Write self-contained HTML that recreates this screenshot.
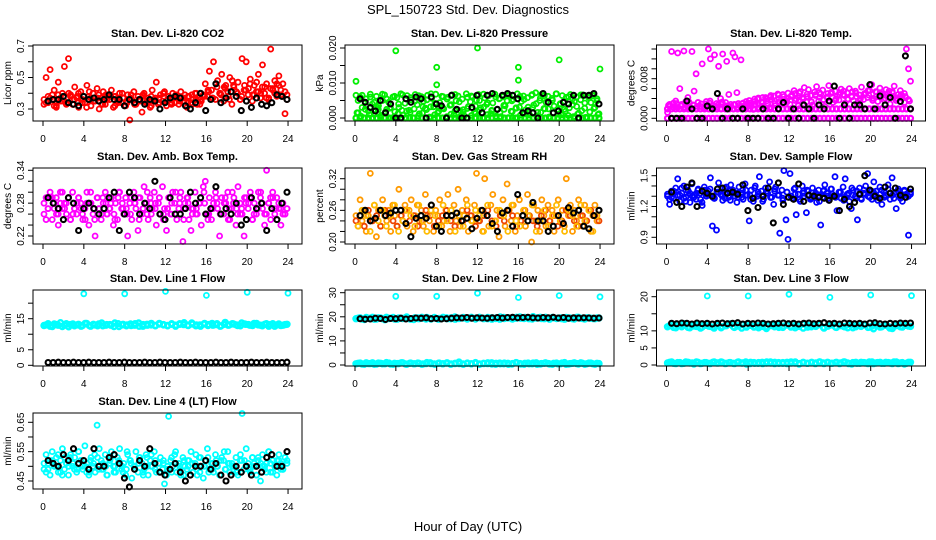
<!DOCTYPE html>
<html><head><meta charset="utf-8"><style>
html,body{margin:0;padding:0;background:#fff;}
svg{display:block;font-family:"Liberation Sans",Arial,sans-serif;}
</style></head><body>
<svg id="chart" width="936" height="540" viewBox="0 0 936 540" xmlns="http://www.w3.org/2000/svg">
<rect x="0" y="0" width="936" height="540" fill="#fff"/>
<text x="468" y="14" text-anchor="middle" font-size="13">SPL_150723  Std. Dev. Diagnostics</text>
<text x="468" y="531" text-anchor="middle" font-size="13">Hour of Day (UTC)</text>
<g id="panels"></g>
</svg>
<script>
// ---- data (hour-of-day implicit, evenly spaced) ----
const xTicks = [0,4,8,12,16,20,24];
const co2Red = [0.33,0.50,0.38,0.55,0.36,0.42,0.31,0.47,0.35,0.40,0.57,0.34,0.62,0.39,0.33,0.44,0.37,0.31,0.41,0.36,0.34,0.45,0.38,0.32,0.40,0.35,0.43,0.30,0.37,0.41,0.33,0.39,0.36,0.42,0.31,0.38,0.35,0.40,0.34,0.37,0.32,0.39,0.23,0.36,0.41,0.33,0.38,0.35,0.28,0.40,0.34,0.37,0.31,0.42,0.36,0.47,0.33,0.39,0.35,0.41,0.32,0.38,0.36,0.40,0.34,0.37,0.33,0.41,0.35,0.39,0.31,0.38,0.34,0.36,0.40,0.33,0.37,0.35,0.39,0.46,0.38,0.54,0.42,0.60,0.36,0.48,0.40,0.52,0.35,0.45,0.41,0.50,0.33,0.44,0.38,0.47,0.36,0.62,0.42,0.60,0.39,0.49,0.35,0.45,0.41,0.52,0.37,0.58,0.40,0.46,0.36,0.68,0.43,0.48,0.38,0.51,0.42,0.46,0.27,0.39];
const co2Red2 = [0.36,0.34,0.39,0.32,0.37,0.35,0.40,0.33,0.38,0.36,0.34,0.41,0.35,0.37,0.33,0.39,0.36,0.38,0.34,0.40,0.35,0.37,0.33,0.36,0.39,0.34,0.38,0.35,0.37,0.40,0.36,0.34,0.39,0.37,0.35,0.38,0.33,0.40,0.36,0.38,0.41,0.37,0.44,0.39,0.43,0.36,0.45,0.40,0.38,0.42,0.46,0.39,0.41,0.44,0.37,0.43,0.40,0.45,0.38,0.36];
const co2Red3 = [0.34,0.37,0.32,0.39,0.35,0.33,0.38,0.36,0.40,0.34,0.31,0.37,0.35,0.39,0.33,0.36,0.38,0.32,0.35,0.37,0.34,0.39,0.33,0.36,0.38,0.35,0.32,0.37,0.34,0.40,0.36,0.33,0.38,0.35,0.37,0.34,0.39,0.36,0.33,0.38,0.42,0.37,0.46,0.40,0.44,0.38,0.48,0.41,0.36,0.45,0.43,0.39,0.47,0.40,0.44,0.37,0.42,0.46,0.39,0.41];
const co2Black = [0.35,0.36,0.36,0.38,0.34,0.33,0.32,0.38,0.36,0.37,0.35,0.36,0.39,0.36,0.36,0.32,0.36,0.34,0.36,0.33,0.36,0.35,0.30,0.34,0.37,0.38,0.37,0.32,0.30,0.34,0.40,0.29,0.36,0.46,0.34,0.37,0.41,0.38,0.29,0.35,0.31,0.37,0.33,0.32,0.34,0.39,0.38,0.36];
const presGreenMilli = [6.5,1.5,6,3,0,5.5,2,6.8,4,1,6.2,3.5,0.5,5,6.6,2.5,4.5,0,6,1.8,5.8,3,6.9,0.8,4.2,6.4,2.2,5.2,0,6.7,3.8,1.2,6.1,4.8,2.8,6.5,0.3,5.6,3.2,6.8,1.5,4.4,6.2,2.6,0,5.9,3.6,6.6,1,4.9,6.3,2.1,5.4,0.6,6.9,3.3,4.6,6,1.7,5.1,6.7,2.9,0,5.7,3.9,6.4,1.3,4.3,6.8,2.4,5.5,0.4,6.1,3.5,4.9,6.6,1.9,5.3,0,6.9,3.1,4.7,6.3,2.3,5.8,0.9,6.5,3.7,7.2,1.6,5,6.8,2.7,4.5,6.2,0,5.6,3.4,6.9,1.1,4.1,6.4,2.5,5.9,0.7,6.7,3.8,4.8,6,1.4,5.2,6.6,2.8,0,6.3,4.4,6.8,3,5.5,1.2];
const presGreen2Milli = [5,6.5,3.5,6,4.5,2.5,6.8,5.5,3,6.2,4,6.6,2,5.8,4.8,6.4,3.2,5.2,6.9,4.2,2.8,6.1,5.4,3.8,6.7,4.6,2.4,5.9,6.3,3.4,5,6.8,4.4,2.2,6,5.6,3.6,6.5,4.9,2.9,6.2,5.3,3.1,6.7,4.1,5.7,6.4,2.6,5.1,6.9,3.9,4.7,6.1,5.5,3.3,6.6,4.3,5.8,6.3,4.9];
const presGreen3Milli = [1.5,0.5,2.5,1,2,3,0.8,1.8,2.8,0.3,1.2,2.2,0,1.6,2.6,0.6,1.4,2.4,3.2,0.9,1.9,2.9,0.4,1.1,2.1,0.2,1.7,2.7,0.7,1.3,2.3,3.1,1,2,0.5,1.5,2.5,0.1,1.8,2.8,0.8,1.2,2.2,3,0.6,1.6,2.6,0.3,1.4,2.4,0.9,1.9,2.9,0.4,1.1,2.1,0.2,1.7,2.7,1];
const presFloorMilli = [0,0,0,0,0,0,0,0,0,0,0,0,0,0,0,0,0,0,0,0,0,0,0,0,0,0,0,0,0,0,0,0,0,0,0,0,0,0,0,0,0,0,0,0,0,0,0,0,0,0,0,0,0,0,0,0,0,0,0,0];
const presOutHour = [0.1,4,8,8,12,16,16,20,24];
const presOutMilli = [10.5,19.2,14.5,9.5,20,14.5,10.8,16.6,14];
const presBlackMilli = [5.5,4.5,3,2,5,1.5,4,0,0,5.5,4.5,6,5.5,0,6,4,3.5,0,6.5,2.5,0,0,3,6.5,1.5,6.5,7,2.5,6.5,7,6.5,5.5,1.5,2,1.5,0,7,4.5,1.5,2,4.5,4,6.5,0,6.5,6.5,7,4];
const tempMagMilli = [1.2,2.8,13.5,2.2,3.5,13.2,6,2.5,13.6,3,4.2,2.1,13.5,5.5,9,3.2,2.4,11,2,3.4,14,12,2.6,12.8,3,10.5,4,13,2.3,11.5,4.8,2.8,13.2,12.4,5.2,2.6,11.8,3.1,2.2,2.9,3.6,2.4,1.8,2.7,3.9,2.1,3.3,2.5,4.2,3,2.2,3.8,4.5,2.6,4.9,3.4,2.9,4.4,3.6,5.1,2.8,4.7,5.6,3.9,2.5,5.4,4.1,6.2,3.3,5.8,4.6,2.7,5.3,6.4,3.5,4.9,5.7,2.4,4.3,6.6,5,3.2,5.5,4.4,3.7,5.9,4.8,3.1,5.2,6,4.5,3.6,5.5,2.9,4.7,6.3,3.8,5.1,4.2,5.6,6.8,4,5.4,3.4,6.1,4.9,3.7,5.8,4.3,2.9,5.2,6.5,3.6,4.8,5.6,4,3.2,14,10,7.5];
const tempMag2Milli = [2.4,3.1,2.2,2.8,3.4,2.1,2.6,3.2,2.3,2.9,3.5,2.2,2.7,3.3,2.5,2.1,2.8,3.0,2.4,2.6,3.1,3.9,2.8,4.2,3.5,4.6,3.0,4.0,4.8,3.3,4.4,5.0,3.7,4.2,4.9,3.4,4.6,5.2,3.8,4.1,5.3,3.6,4.7,5.5,3.9,4.3,5.1,3.5,4.8,5.6,4.0,4.4,5.2,3.7,4.9,5.4,4.1,4.5,5.0,3.8];
const tempMag3Milli = [2.6,2.3,3.0,2.5,2.2,3.3,2.7,2.4,2.9,2.2,3.1,2.6,2.3,2.8,3.2,2.4,2.7,2.2,2.9,3.4,2.7,3.4,4.1,3.1,3.9,4.3,3.5,4.7,3.2,4.0,4.5,3.6,5.1,3.9,4.4,3.3,4.8,4.2,3.7,5.0,4.3,3.9,5.2,4.6,3.8,5.4,4.4,4.0,5.0,4.7,3.6,5.3,4.5,4.1,5.5,4.2,3.9,4.8,4.4,3.5];
const tempRowMilli = [1.9,1.9,1.9,1.9,1.9,1.9,1.9,1.9,1.9,1.9,1.9,1.9,1.9,1.9,1.9,1.9,1.9,1.9,1.9,1.9,1.9,1.9,1.9,1.9,1.9,1.9,1.9,1.9,1.9,1.9,1.9,1.9,1.9,1.9,1.9,1.9,1.9,1.9,1.9,1.9,1.9,1.9,1.9,1.9,1.9,1.9,1.9,1.9,1.9,1.9,1.9,1.9,1.9,1.9,1.9,1.9,1.9,1.9,1.9,1.9];
const tempFloorMilli = [0,0,0,0,0,0,0,0,0,0,0,0,0,0,0,0,0,0,0,0,0,0,0,0,0,0,0,0,0,0,0,0,0,0,0,0,0,0,0,0,0,0,0,0,0,0,0,0,0,0,0,0,0,0,0,0,0,0,0,0];
const tempBlackMilli = [0,0,0,3.5,1.9,0,0,2.5,1.9,5,0,1.9,0,0,1.9,0,0,0,1.9,0,0,1.9,3.2,0,1.9,0,2.7,1.9,0,2.7,1.9,3.5,6.5,0,2.7,0,2.7,2.7,1.9,6.8,1.9,4.5,2.7,4.2,0,3.4,12.6,1.9];
const ambMag = [0.26,0.29,0.27,0.30,0.25,0.28,0.29,0.24,0.30,0.27,0.28,0.26,0.29,0.25,0.30,0.27,0.26,0.29,0.28,0.25,0.27,0.30,0.24,0.28,0.26,0.22,0.29,0.27,0.25,0.28,0.30,0.26,0.27,0.29,0.24,0.28,0.25,0.30,0.27,0.26,0.29,0.22,0.28,0.25,0.30,0.27,0.23,0.29,0.26,0.31,0.28,0.25,0.29,0.27,0.30,0.24,0.28,0.26,0.31,0.27,0.23,0.29,0.26,0.30,0.28,0.25,0.27,0.30,0.21,0.28,0.29,0.25,0.23,0.27,0.30,0.26,0.28,0.24,0.31,0.32,0.26,0.29,0.25,0.28,0.30,0.27,0.22,0.29,0.26,0.28,0.30,0.25,0.27,0.29,0.24,0.31,0.28,0.26,0.22,0.29,0.27,0.30,0.25,0.28,0.26,0.30,0.29,0.27,0.24,0.34,0.28,0.25,0.30,0.26,0.29,0.27,0.24,0.28,0.26,0.27];
const ambMag2 = [0.28,0.27,0.29,0.26,0.28,0.27,0.29,0.26,0.28,0.27,0.25,0.28,0.27,0.29,0.26,0.28,0.27,0.26,0.29,0.28,0.27,0.26,0.28,0.29,0.27,0.26,0.28,0.27,0.29,0.26,0.27,0.28,0.26,0.29,0.27,0.28,0.26,0.27,0.29,0.28,0.26,0.27,0.28,0.26,0.29,0.27,0.28,0.26,0.27,0.28,0.29,0.26,0.27,0.28,0.26,0.29,0.27,0.28,0.26,0.27];
const ambMag3 = [0.25,0.29,0.27,0.26,0.30,0.28,0.25,0.27,0.29,0.26,0.28,0.30,0.25,0.27,0.29,0.26,0.28,0.25,0.30,0.27,0.26,0.29,0.28,0.25,0.27,0.30,0.26,0.28,0.29,0.25,0.27,0.26,0.30,0.28,0.25,0.29,0.27,0.26,0.28,0.30,0.25,0.27,0.29,0.26,0.28,0.25,0.30,0.27,0.26,0.29,0.28,0.25,0.27,0.30,0.26,0.28,0.29,0.25,0.27,0.26];
const ambBlack = [0.29,0.28,0.27,0.25,0.29,0.28,0.23,0.27,0.28,0.27,0.26,0.27,0.29,0.30,0.23,0.26,0.30,0.29,0.26,0.28,0.27,0.32,0.26,0.25,0.29,0.26,0.26,0.27,0.30,0.28,0.29,0.26,0.27,0.31,0.26,0.27,0.26,0.28,0.24,0.25,0.29,0.27,0.28,0.23,0.27,0.25,0.28,0.30];
const rhOrange = [0.25,0.23,0.28,0.24,0.26,0.22,0.25,0.33,0.24,0.27,0.21,0.26,0.23,0.28,0.25,0.24,0.26,0.22,0.27,0.25,0.23,0.30,0.25,0.24,0.27,0.23,0.26,0.28,0.22,0.25,0.27,0.24,0.26,0.23,0.29,0.25,0.24,0.27,0.22,0.26,0.25,0.28,0.23,0.24,0.26,0.29,0.22,0.25,0.27,0.24,0.30,0.23,0.26,0.25,0.28,0.22,0.25,0.24,0.27,0.33,0.24,0.26,0.22,0.32,0.25,0.23,0.27,0.29,0.24,0.26,0.21,0.25,0.28,0.23,0.31,0.26,0.24,0.27,0.22,0.25,0.28,0.24,0.26,0.23,0.29,0.25,0.20,0.27,0.24,0.26,0.22,0.28,0.25,0.23,0.27,0.24,0.26,0.22,0.25,0.28,0.24,0.26,0.23,0.32,0.25,0.27,0.22,0.26,0.24,0.28,0.25,0.23,0.27,0.24,0.26,0.22,0.25,0.27,0.24,0.26];
const rhOrange2 = [0.24,0.25,0.23,0.26,0.24,0.25,0.23,0.26,0.25,0.24,0.23,0.25,0.26,0.24,0.25,0.23,0.24,0.26,0.25,0.23,0.24,0.25,0.26,0.24,0.23,0.25,0.24,0.26,0.25,0.23,0.24,0.25,0.26,0.24,0.23,0.25,0.24,0.26,0.25,0.23,0.24,0.26,0.25,0.24,0.23,0.25,0.26,0.24,0.25,0.23,0.24,0.26,0.25,0.24,0.23,0.25,0.24,0.26,0.25,0.24];
const rhOrange3 = [0.23,0.26,0.25,0.22,0.27,0.24,0.26,0.23,0.25,0.27,0.22,0.24,0.26,0.25,0.23,0.27,0.24,0.22,0.26,0.25,0.23,0.27,0.24,0.26,0.22,0.25,0.23,0.27,0.24,0.26,0.25,0.22,0.27,0.23,0.24,0.26,0.25,0.22,0.27,0.24,0.23,0.26,0.25,0.27,0.22,0.24,0.26,0.23,0.25,0.27,0.24,0.22,0.26,0.25,0.23,0.27,0.24,0.26,0.22,0.25];
const rhBlack = [0.25,0.26,0.24,0.245,0.26,0.25,0.255,0.26,0.26,0.235,0.21,0.245,0.25,0.245,0.27,0.23,0.22,0.25,0.25,0.255,0.24,0.245,0.225,0.245,0.26,0.25,0.235,0.22,0.255,0.26,0.23,0.29,0.25,0.24,0.275,0.24,0.24,0.22,0.23,0.25,0.235,0.265,0.255,0.26,0.23,0.225,0.25,0.26];
const flowBlue = [1.30,1.22,1.35,1.28,1.38,1.47,1.25,1.33,1.40,1.29,1.36,1.24,1.42,1.31,1.27,1.37,1.33,1.21,1.39,1.30,1.35,1.48,1.01,1.28,0.97,1.43,1.32,1.26,1.38,1.34,1.29,1.41,1.36,1.30,1.24,1.39,1.33,1.27,1.42,1.31,1.06,1.36,1.25,1.40,1.30,1.49,1.35,1.27,1.38,1.33,1.44,1.29,1.22,1.39,1.31,0.94,1.36,1.55,1.07,0.88,1.52,1.28,1.37,1.12,1.32,1.25,1.40,1.30,1.14,1.35,1.27,1.38,1.31,1.24,1.36,1.02,1.29,1.41,1.33,1.26,1.37,1.30,1.49,1.16,1.34,1.28,1.39,1.47,1.32,1.25,1.18,1.36,1.30,1.07,1.38,1.27,1.33,1.40,1.52,1.29,1.35,1.44,1.31,1.26,1.39,1.22,1.34,1.30,1.41,1.27,1.48,1.33,1.18,1.37,1.30,1.25,1.35,1.29,0.92,1.32];
const flowBlue2 = [1.32,1.29,1.34,1.31,1.28,1.35,1.30,1.33,1.27,1.36,1.31,1.29,1.34,1.32,1.28,1.35,1.30,1.33,1.29,1.36,1.31,1.28,1.34,1.30,1.33,1.29,1.35,1.31,1.28,1.34,1.30,1.32,1.27,1.35,1.31,1.29,1.33,1.30,1.36,1.28,1.32,1.30,1.34,1.29,1.33,1.31,1.35,1.28,1.32,1.30,1.34,1.29,1.36,1.31,1.33,1.28,1.35,1.30,1.32,1.34];
const flowBlue3 = [1.27,1.35,1.31,1.38,1.25,1.33,1.29,1.36,1.24,1.32,1.37,1.28,1.34,1.30,1.39,1.26,1.33,1.29,1.36,1.31,1.27,1.38,1.32,1.25,1.35,1.29,1.37,1.31,1.26,1.34,1.30,1.38,1.27,1.33,1.36,1.28,1.32,1.25,1.35,1.30,1.37,1.29,1.34,1.26,1.31,1.38,1.28,1.33,1.36,1.30,1.27,1.35,1.32,1.29,1.37,1.31,1.34,1.28,1.36,1.30];
const flowBlack = [1.34,1.24,1.20,1.39,1.43,1.20,1.35,1.33,1.30,1.37,1.38,1.33,1.34,1.32,1.41,1.16,1.28,1.19,1.30,1.38,1.04,1.43,1.22,1.29,1.27,1.42,1.25,1.31,1.30,1.29,1.28,1.26,1.30,1.16,1.27,1.20,1.24,1.32,1.50,1.36,1.30,1.28,1.39,1.33,1.38,1.31,1.29,1.37];
const line1Cyan = [12.8,13.4,12.5,13.1,13.7,12.9,12.4,13.3,13.0,12.6,13.5,12.8,13.2,12.7,13.6,12.9,13.1,12.5,13.4,13.0,12.7,13.3,12.9,13.6,12.6,13.2,13.0,12.8,13.5,13.1,12.7,13.4,12.9,13.2,13.7,12.8,13.3,13.0,12.6,13.5,13.1,12.9,13.4,12.7,13.8,13.0,13.3,12.8,13.6,13.2,12.9,13.5,13.0,12.7,13.4,13.1,12.6,13.3,12.9,13.2];
const line1Cyan2 = [13.0,12.6,13.3,12.9,12.5,13.4,13.1,12.7,13.2,12.8,13.5,12.6,13.0,13.3,12.7,13.1,12.9,13.6,12.5,13.2,13.0,12.8,13.4,12.6,13.1,12.9,13.5,12.7,13.3,13.0,12.8,13.2,12.6,13.4,13.1,12.9,13.6,12.7,13.0,13.3,12.8,13.5,13.1,12.6,13.2,12.9,13.4,13.0,12.7,13.3,13.1,12.8,13.5,12.9,13.2,12.6,13.4,13.0,12.8,13.1];
const line1Out = [23,23,23.8,22.5,23.5,23.2];
const line1Black = [0.9,0.9,1.0,0.9,0.9,1.0,0.9,0.9,1.0,0.9,0.9,0.9,1.0,0.9,0.9,1.0,0.9,0.9,0.9,1.0,0.9,0.9,1.0,0.9,0.9,0.9,1.0,0.9,0.9,1.0,0.9,0.9,0.9,1.0,0.9,0.9,1.0,0.9,0.9,0.9,1.0,0.9,0.9,1.0,0.9,0.9,0.9,1.0];
const line2Cyan = [19.2,19.6,18.9,19.4,19.8,19.1,19.5,18.8,19.3,19.7,19.0,19.4,19.6,19.2,18.9,19.5,19.8,19.1,19.3,19.7,19.0,19.4,19.6,19.2,19.9,19.3,19.5,19.1,19.8,19.4,19.6,19.2,19.7,19.0,19.5,19.9,19.3,19.6,19.1,19.8,19.4,19.7,19.2,20.1,19.5,19.3,19.8,19.0,19.6,19.4,19.2,19.7,19.5,19.1,19.8,19.3,19.6,19.4,19.2,19.5];
const line2Cyan2 = [19.4,19.1,19.7,19.3,19.0,19.6,19.2,19.8,19.4,19.1,19.5,19.3,19.9,19.0,19.6,19.2,19.4,19.7,19.1,19.5,19.3,19.8,19.2,19.6,19.0,19.4,19.7,19.3,19.5,19.1,19.8,19.4,19.2,19.6,19.3,19.0,19.7,19.5,19.2,19.4,19.9,19.3,19.6,19.1,19.5,19.8,19.2,19.4,19.7,19.3,19.6,19.0,19.5,19.2,19.8,19.4,19.1,19.6,19.3,19.5];
const line2Low = [0.5,0.8,0.3,0.6,0.9,0.4,0.7,0.5,0.8,0.3,0.6,0.9,0.4,0.7,0.5,0.8,0.3,0.6,0.9,0.4,0.7,0.5,0.8,0.3,0.6,1.2,0.4,0.7,0.5,0.8,0.3,0.6,0.9,0.4,0.7,0.5,0.8,0.3,0.6,0.9,0.4,0.7,0.5,0.8,0.3,0.6,0.9,0.4,0.7,0.5,0.8,0.3,0.6,0.9,0.4,0.7,0.5,0.8,0.3,0.6];
const line2Low2 = [0.7,0.4,0.9,0.6,0.3,0.8,0.5,1.0,0.4,0.7,0.6,0.9,0.3,0.8,0.5,0.7,0.4,1.0,0.6,0.3,0.8,0.5,0.9,0.4,0.7,0.6,0.3,0.8,0.5,1.0,0.4,0.7,0.6,0.9,0.3,0.8,0.5,0.7,0.4,1.0,0.6,0.3,0.8,0.5,0.9,0.4,0.7,0.6,0.3,0.8,0.5,1.0,0.4,0.7,0.6,0.9,0.3,0.8,0.5,0.7];
const line2Out = [28.5,28.5,29.8,28,28.8,28.3];
const line2Black = [19.2,19.0,19.1,19.4,19.3,18.9,19.3,19.2,19.4,19.1,19.3,19.5,19.4,19.6,19.2,19.3,19.1,19.2,19.4,19.6,19.5,19.7,19.4,19.6,19.5,19.4,19.6,19.7,19.5,19.7,19.8,19.6,19.7,19.8,19.6,19.5,19.7,19.6,19.8,19.5,19.7,19.4,19.6,19.5,19.6,19.5,19.4,19.5];
const line3Cyan = [11.2,11.8,10.9,11.5,12.1,11.0,11.6,11.3,10.8,11.9,11.4,11.1,11.7,10.9,11.5,12.0,11.2,11.6,10.8,11.4,11.9,11.1,11.5,11.3,10.7,11.8,11.2,11.6,11.0,11.7,11.4,10.9,11.5,12.0,11.1,11.6,11.3,11.8,10.8,11.4,11.7,11.0,11.5,11.2,11.9,10.9,11.6,11.3,11.8,11.1,10.6,11.5,11.2,11.7,10.8,11.4,11.9,11.1,11.6,11.3];
const line3Cyan2 = [11.5,11.0,11.7,11.2,11.9,10.9,11.4,11.8,11.1,11.6,11.3,10.8,11.7,11.2,11.5,12.0,11.0,11.4,11.8,11.1,11.6,11.3,10.9,11.7,11.2,11.5,11.9,11.0,11.4,11.8,11.1,11.6,11.3,10.8,11.7,11.2,11.5,12.0,11.0,11.4,11.8,11.1,11.6,11.3,10.9,11.7,11.2,11.5,11.9,11.0,11.4,11.8,11.1,11.6,11.3,10.7,11.5,11.2,11.7,11.4];
const line3Low = [0.6,0.9,0.4,0.7,0.5,0.8,0.6,0.9,0.4,0.7,0.5,0.8,0.6,0.9,0.4,0.7,0.5,0.8,0.6,0.9,0.4,0.7,0.5,0.8,0.6,0.9,0.4,0.7,0.5,0.8,0.6,0.9,0.4,0.7,0.5,0.8,0.6,0.9,0.4,0.7,0.5,0.8,0.6,0.9,0.4,0.7,0.5,0.8,0.6,0.9,0.4,0.7,0.5,0.8,0.6,0.9,0.4,0.7,0.5,0.8];
const line3Low2 = [0.8,0.5,0.7,0.4,0.9,0.6,0.3,0.8,0.5,0.7,0.4,0.9,0.6,0.8,0.5,0.7,0.4,0.9,0.6,0.3,0.8,0.5,0.7,0.4,0.9,0.6,0.8,0.5,0.7,0.4,0.9,0.6,0.3,0.8,0.5,0.7,0.4,0.9,0.6,0.8,0.5,0.7,0.4,0.9,0.6,0.3,0.8,0.5,0.7,0.4,0.9,0.6,0.8,0.5,0.7,0.4,0.9,0.6,0.3,0.8];
const line3Out = [20.2,20.2,20.7,19.8,20.5,20.3];
const line3Black = [12.2,12.1,12.3,12.2,12.0,12.3,12.1,12.2,12.0,12.2,12.3,12.1,12.2,12.4,12.0,12.2,12.1,12.3,12.2,12.0,12.1,12.2,12.3,12.1,12.2,12.0,12.2,12.3,12.1,12.2,12.4,12.1,12.2,12.0,12.3,12.2,12.1,12.2,12.0,12.3,12.4,12.1,12.0,12.2,12.1,12.3,12.2,12.3];
const line4Cyan = [0.49,0.54,0.51,0.47,0.55,0.50,0.53,0.48,0.52,0.56,0.49,0.51,0.47,0.54,0.50,0.53,0.48,0.55,0.52,0.49,0.57,0.51,0.47,0.53,0.50,0.48,0.64,0.56,0.52,0.49,0.54,0.47,0.51,0.55,0.50,0.48,0.53,0.56,0.49,0.51,0.47,0.54,0.52,0.46,0.50,0.55,0.48,0.53,0.51,0.49,0.54,0.47,0.52,0.50,0.55,0.48,0.51,0.53,0.49,0.44,0.47,0.67,0.52,0.50,0.54,0.48,0.51,0.47,0.53,0.50,0.49,0.52,0.55,0.48,0.51,0.47,0.53,0.50,0.46,0.52,0.56,0.49,0.51,0.48,0.54,0.50,0.47,0.53,0.52,0.49,0.55,0.48,0.51,0.50,0.53,0.47,0.52,0.68,0.49,0.56,0.51,0.48,0.53,0.50,0.47,0.52,0.45,0.54,0.49,0.51,0.55,0.48,0.52,0.50,0.47,0.54,0.51,0.49,0.53,0.52];
const line4Cyan2 = [0.51,0.49,0.52,0.50,0.48,0.53,0.50,0.51,0.49,0.52,0.50,0.48,0.51,0.53,0.49,0.50,0.52,0.48,0.51,0.50,0.49,0.52,0.50,0.51,0.48,0.53,0.50,0.49,0.51,0.52,0.50,0.48,0.51,0.49,0.52,0.50,0.51,0.49,0.53,0.50,0.48,0.51,0.50,0.52,0.49,0.51,0.50,0.48,0.52,0.50,0.49,0.51,0.53,0.50,0.48,0.51,0.50,0.52,0.49,0.51];
const line4Cyan3 = [0.48,0.52,0.50,0.54,0.47,0.51,0.53,0.49,0.55,0.50,0.48,0.52,0.54,0.49,0.51,0.47,0.53,0.50,0.52,0.48,0.55,0.51,0.49,0.53,0.47,0.50,0.54,0.52,0.48,0.51,0.49,0.53,0.55,0.50,0.47,0.52,0.51,0.54,0.48,0.50,0.53,0.49,0.52,0.47,0.55,0.51,0.50,0.48,0.54,0.52,0.49,0.53,0.47,0.51,0.50,0.55,0.48,0.52,0.49,0.53];
const line4Black = [0.52,0.51,0.50,0.54,0.52,0.56,0.51,0.52,0.49,0.56,0.50,0.50,0.53,0.54,0.51,0.46,0.43,0.49,0.52,0.50,0.56,0.51,0.48,0.47,0.49,0.51,0.48,0.45,0.47,0.50,0.50,0.52,0.49,0.51,0.47,0.45,0.47,0.50,0.48,0.50,0.47,0.50,0.48,0.53,0.54,0.50,0.50,0.55];
const outHours = [4,8,12,16,20,24];

const NS = "http://www.w3.org/2000/svg";
const root = document.getElementById('panels');
const COLX = [43, 355, 666.5];
const ROWY = [45, 168, 290, 413];
const BOXW = 269, BOXH = 76, PXH = 10.21;

function mk(tag, attrs, parent){
  const e = document.createElementNS(NS, tag);
  for (const k in attrs) e.setAttribute(k, attrs[k]);
  parent.appendChild(e);
  return e;
}
function evenHours(n, a, b){ const r=[]; for(let i=0;i<n;i++) r.push(n===1?a:a+i*(b-a)/(n-1)); return r; }

function panel(col, row, title, ylab, cal, ticks, labels, fmt, series, slug){
  const x0 = COLX[col], top = ROWY[row], left = x0 - 10, bottom = top + BOXH;
  const xs = h => x0 + h * PXH;
  const k = (cal[3]-cal[1])/(cal[2]-cal[0]);
  const ys = v => cal[1] + (v - cal[0]) * k;
  const g = mk('g', {}, root);
  
  
  const t = mk('text', {x: left + BOXW/2, y: top - 8, 'text-anchor':'middle', 'font-size':'11', 'font-weight':'bold'}, g);
  t.textContent = title;
  
  
  const sg = mk('g', {}, g);
  
  
  series.forEach(s => {
    const hrs = s.hours || evenHours(s.vals.length, s.a, s.b);
    s.vals.forEach((v, i) => {
      const c = mk('circle', {cx: xs(hrs[i]).toFixed(1), cy: ys(v*(s.scale||1)).toFixed(1), r: 2.5, fill:'none', stroke: s.color, 'stroke-width': s.sw || 1.8}, sg);
      
      
    });
  });
  const box = mk('rect', {x:left, y:top, width:BOXW, height:BOXH, fill:'none', stroke:'#000', 'stroke-width':1}, g);
  
  
  const xa = mk('g', {}, g);
  
  
  xTicks.forEach(h => {
    mk('line', {x1:xs(h), x2:xs(h), y1:bottom, y2:bottom+5, stroke:'#000'}, xa);
    const tl = mk('text', {x:xs(h), y:bottom+21, 'text-anchor':'middle', 'font-size':'10'}, xa);
    tl.textContent = h;
    
    
  });
  const ya = mk('g', {}, g);
  
  
  mk('line', {x1:left, x2:left, y1:ys(ticks[0]), y2:ys(ticks[ticks.length-1]), stroke:'#000'}, ya);
  ticks.forEach(v => mk('line', {x1:left-5, x2:left, y1:ys(v), y2:ys(v), stroke:'#000'}, ya));
  labels.forEach(v => {
    const yy = ys(v), xx = left - 9;
    const tl = mk('text', {x:xx, y:yy, 'text-anchor':'middle', 'font-size':'10', transform:`rotate(-90 ${xx} ${yy})`}, ya);
    tl.textContent = fmt(v);
    
    
  });
  const yx = left - 22, yy = top + BOXH/2;
  const yl = mk('text', {x:yx, y:yy, 'text-anchor':'middle', 'font-size':'10', transform:`rotate(-90 ${yx} ${yy})`}, g);
  yl.textContent = ylab;
  
  
}
const f1 = v => v.toFixed(1), f2 = v => v.toFixed(2), f3 = v => v.toFixed(3), f0 = v => String(Math.round(v));
const BL = '#000', A = 0.1, B = 23.9, BA = 0.5, BS = 2.1;

panel(0,0,'Stan. Dev. Li-820 CO2','Licor ppm',[0.3,109,0.7,46],[0.3,0.4,0.5,0.6,0.7],[0.3,0.5,0.7],f1,[
  {vals:co2Red,a:A,b:B,color:'#ff0000'},{vals:co2Red2,a:A,b:B,color:'#ff0000'},{vals:co2Red3,a:0.3,b:23.7,color:'#ff0000'},{vals:co2Black,a:BA,b:B,color:BL,sw:BS}],'co2');
panel(1,0,'Stan. Dev. Li-820 Pressure','kPa',[0,118,0.02,48],[0,0.005,0.01,0.015,0.02],[0,0.01,0.02],f3,[
  {vals:presFloorMilli,a:A,b:B,color:'#00ee00',sw:2.2,scale:0.001},{vals:presGreenMilli,a:A,b:B,color:'#00ee00',scale:0.001},
  {vals:presGreen2Milli,a:0.3,b:23.7,color:'#00ee00',scale:0.001},{vals:presGreen3Milli,a:0.2,b:23.8,color:'#00ee00',scale:0.001},
  {vals:presOutMilli,hours:presOutHour,color:'#00ee00',scale:0.001},{vals:presBlackMilli,a:BA,b:B,color:BL,sw:BS,scale:0.001}],'pressure');
panel(2,0,'Stan. Dev. Li-820 Temp.','degrees C',[0,118.3,0.008,78.7],[0,0.002,0.004,0.006,0.008,0.01,0.012,0.014],[0,0.008],f3,[
  {vals:tempFloorMilli,a:A,b:B,color:'#ff00ff',sw:2.2,scale:0.001},{vals:tempRowMilli,a:A,b:B,color:'#ff00ff',sw:2.2,scale:0.001},
  {vals:tempMagMilli,a:A,b:B,color:'#ff00ff',scale:0.001},{vals:tempMag2Milli,a:0.3,b:23.7,color:'#ff00ff',scale:0.001},
  {vals:tempMag3Milli,a:0.2,b:23.8,color:'#ff00ff',scale:0.001},{vals:tempBlackMilli,a:BA,b:B,color:BL,sw:BS,scale:0.001}],'li820-temp');
panel(0,1,'Stan. Dev. Amb. Box Temp.','degrees C',[0.22,236,0.34,170.3],[0.22,0.24,0.26,0.28,0.30,0.32,0.34],[0.22,0.28,0.34],f2,[
  {vals:ambMag,a:A,b:B,color:'#ff00ff'},{vals:ambMag2,a:A,b:B,color:'#ff00ff'},{vals:ambMag3,a:0.3,b:23.7,color:'#ff00ff'},{vals:ambBlack,a:BA,b:B,color:BL,sw:BS}],'amb-temp');
panel(1,1,'Stan. Dev. Gas Stream RH','percent',[0.20,242,0.32,178.7],[0.20,0.22,0.24,0.26,0.28,0.30,0.32],[0.20,0.26,0.32],f2,[
  {vals:rhOrange,a:A,b:B,color:'#ff9a00'},{vals:rhOrange2,a:A,b:B,color:'#ee4400'},{vals:rhOrange3,a:0.3,b:23.7,color:'#ffbb00'},{vals:rhBlack,a:BA,b:B,color:BL,sw:BS}],'rh');
panel(2,1,'Stan. Dev. Sample Flow','ml/min',[0.9,237.3,1.5,175.7],[0.9,1.0,1.1,1.2,1.3,1.4,1.5],[0.9,1.2,1.5],f1,[
  {vals:flowBlue,a:A,b:B,color:'#0000ff'},{vals:flowBlue2,a:A,b:B,color:'#0000ff'},{vals:flowBlue3,a:0.3,b:23.7,color:'#0000ff'},{vals:flowBlack,a:BA,b:B,color:BL,sw:BS}],'sample-flow');
panel(0,2,'Stan. Dev. Line 1 Flow','ml/min',[0,365.3,15,318.7],[0,5,10,15,20],[0,5,15],f0,[
  {vals:line1Cyan,a:A,b:B,color:'#00ffff',sw:2.4},{vals:line1Cyan2,a:0.3,b:23.7,color:'#00ffff',sw:2.4},{vals:line1Out,hours:outHours,color:'#00ffff'},{vals:line1Black,a:BA,b:B,color:BL,sw:BS}],'line1');
panel(1,2,'Stan. Dev. Line 2 Flow','ml/min',[0,365,30,292.7],[0,5,10,15,20,25,30],[0,10,20,30],f0,[
  {vals:line2Cyan,a:A,b:B,color:'#00ffff',sw:2.4},{vals:line2Cyan2,a:0.3,b:23.7,color:'#00ffff',sw:2.4},{vals:line2Low,a:A,b:B,color:'#00ffff',sw:2.4},{vals:line2Low2,a:0.3,b:23.7,color:'#00ffff',sw:2.4},{vals:line2Out,hours:outHours,color:'#00ffff'},{vals:line2Black,a:BA,b:B,color:BL,sw:BS}],'line2');
panel(2,2,'Stan. Dev. Line 3 Flow','ml/min',[0,365,20,296.7],[0,5,10,15,20],[0,5,10,20],f0,[
  {vals:line3Cyan,a:A,b:B,color:'#00ffff',sw:2.4},{vals:line3Cyan2,a:0.3,b:23.7,color:'#00ffff',sw:2.4},{vals:line3Low,a:A,b:B,color:'#00ffff',sw:2.4},{vals:line3Low2,a:0.3,b:23.7,color:'#00ffff',sw:2.4},{vals:line3Out,hours:outHours,color:'#00ffff'},{vals:line3Black,a:BA,b:B,color:BL,sw:BS}],'line3');
panel(0,3,'Stan. Dev. Line 4 (LT) Flow','ml/min',[0.45,481,0.65,422.3],[0.45,0.5,0.55,0.6,0.65],[0.45,0.55,0.65],f2,[
  {vals:line4Cyan,a:A,b:B,color:'#00ffff'},{vals:line4Cyan2,a:A,b:B,color:'#00ffff'},{vals:line4Cyan3,a:0.3,b:23.7,color:'#00ffff'},{vals:line4Black,a:BA,b:B,color:BL,sw:BS}],'line4');
</script>
</body></html>
